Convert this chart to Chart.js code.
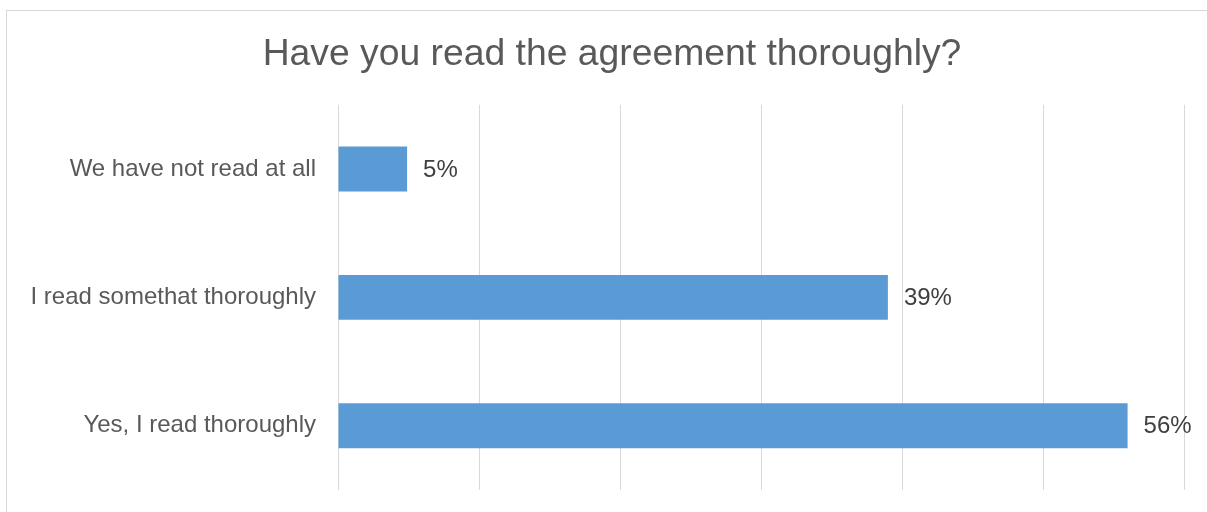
<!DOCTYPE html>
<html>
<head>
<meta charset="utf-8">
<script src="https://cdn.jsdelivr.net/npm/chart.js@4/dist/chart.umd.min.js"></script>
<style>
  html, body { margin: 0; padding: 0; background: #fff; overflow: hidden; }
  #box {
    position: absolute;
    left: 6px;
    top: 10px;
    width: 1210px;
    height: 510px;
    border: 1px solid #d9d9d9;
  }
</style>
</head>
<body>
<div id="box"><canvas id="answersChart"></canvas></div>
<script>
const categories = ['We have not read at all', 'I read somethat thoroughly', 'Yes, I read thoroughly'];
const shares = [4.9, 39, 56];
const axisMax = 60;
const axisStep = 10;

const FONT = '"Liberation Sans", Arial, Helvetica, sans-serif';

// draws "xx%" just right of each bar end
const valueLabels = {
  id: 'valueLabels',
  afterDatasetsDraw(chart) {
    const ctx = chart.ctx;
    const meta = chart.getDatasetMeta(0);
    ctx.save();
    ctx.font = '24px ' + FONT;
    ctx.fillStyle = '#404040';
    ctx.textAlign = 'left';
    ctx.textBaseline = 'middle';
    meta.data.forEach((bar, i) => {
      ctx.fillText(Math.round(shares[i]) + '%', bar.x + 16, bar.y + 1);
    });
    ctx.restore();
  },
};

const ctx = document.getElementById('answersChart').getContext('2d');
const answersChart = new Chart(ctx, {
  type: 'bar',
  data: {
    labels: categories,
    datasets: [
      {
        data: shares,
        backgroundColor: '#5b9bd5',
        borderWidth: 0,
        barPercentage: 0.35,
        categoryPercentage: 1,
      },
    ],
  },
  options: {
    indexAxis: 'y',
    responsive: true,
    maintainAspectRatio: false,
    animation: false,
    layout: {
      padding: { top: 0, right: 0, bottom: 31, left: 0 },
    },
    plugins: {
      legend: { display: false },
      tooltip: { enabled: false },
      title: {
        display: true,
        text: 'Have you read the agreement thoroughly?',
        color: '#595959',
        font: { family: FONT, size: 37.3, weight: 'normal' },
        padding: { top: 21, bottom: 28 },
      },
    },
    scales: {
      x: {
        min: 0,
        max: axisMax,
        ticks: { display: false, stepSize: axisStep },
        grid: { color: '#d9d9d9', lineWidth: 1, drawTicks: false },
        border: { display: false },
        afterFit(scale) {
          scale.height = 0;
        },
      },
      y: {
        ticks: {
          color: '#595959',
          font: { family: FONT, size: 24 },
          padding: 14,
        },
        grid: { display: false },
        border: { display: false },
        afterFit(scale) {
          scale.width = 331;
        },
      },
      // empty right-hand axis, only keeps a margin so the title stays centred on the whole box
      yRight: {
        type: 'category',
        position: 'right',
        labels: categories,
        ticks: { display: false },
        grid: { display: false },
        border: { display: false },
        afterFit(scale) {
          scale.width = 33;
        },
      },
    },
  },
  plugins: [valueLabels],
});
</script>
</body>
</html>
